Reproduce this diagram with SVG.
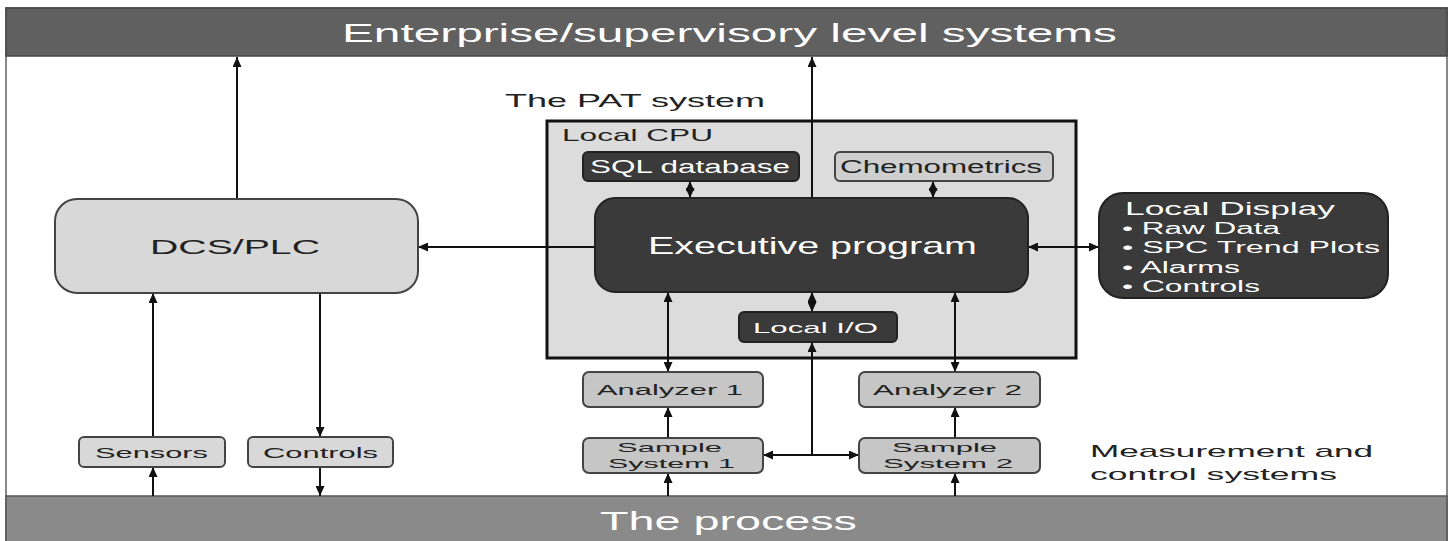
<svg xmlns="http://www.w3.org/2000/svg" width="1452" height="541" viewBox="0 0 1452 541">
<style>
text{font-family:"Liberation Sans",Arial,sans-serif}
.w{fill:#ffffff}
.k{fill:#222222}
.dark{fill:#3a3a3a;stroke:#222;stroke-width:2}
.light{fill:#d8d8d8;stroke:#444;stroke-width:2}
.mid{fill:#c6c6c6;stroke:#444;stroke-width:2}
.c{stroke:#111;stroke-width:2;fill:none}
.a{marker-end:url(#ah)}
.b{marker-start:url(#ah);marker-end:url(#ah)}
</style>
<defs>
<marker id="ah" markerUnits="userSpaceOnUse" markerWidth="10" markerHeight="9" viewBox="0 0 10 9" refX="10" refY="4.5" orient="auto-start-reverse">
<path d="M0,0 L10,4.5 L0,9 z" fill="#111"/>
</marker>
</defs>
<rect x="0" y="0" width="1452" height="541" fill="#ffffff"/>
<rect x="6" y="8" width="1441" height="540" fill="#ffffff" stroke="#888" stroke-width="2"/>

<g id="enterprise">
<rect x="6" y="8" width="1441" height="48" fill="#606060" stroke="#444" stroke-width="1.5"/>
<text class="w" x="342" y="42" font-size="26" textLength="775" lengthAdjust="spacingAndGlyphs">Enterprise/supervisory level systems</text>
</g>

<g id="process">
<rect x="6" y="496" width="1441" height="50" fill="#8a8a8a" stroke="#555" stroke-width="1.5"/>
<text class="w" x="600" y="530" font-size="26" textLength="257" lengthAdjust="spacingAndGlyphs">The process</text>
</g>

<g id="pat-label">
<text class="k" x="505" y="107" font-size="19" textLength="260" lengthAdjust="spacingAndGlyphs">The PAT system</text>
</g>

<g id="local-cpu">
<rect x="547" y="121" width="529" height="237" fill="#dcdcdc" stroke="#111" stroke-width="3"/>
<text class="k" x="562" y="141" font-size="17" textLength="151" lengthAdjust="spacingAndGlyphs">Local CPU</text>
</g>

<g id="connectors">
<path class="c a" d="M237,199 V57"/>
<path class="c a" d="M812,198 V57"/>
<path class="c a" d="M595,247 H418"/>
<path class="c b" d="M690,181 V198"/>
<path class="c b" d="M933,181 V198"/>
<path class="c b" d="M812,292 V312"/>
<path class="c b" d="M1028,247 H1099"/>
<path class="c b" d="M668,292 V372"/>
<path class="c b" d="M955,292 V372"/>
<path class="c a" d="M668,438 V407"/>
<path class="c a" d="M955,438 V407"/>
<path class="c a" d="M668,496 V473"/>
<path class="c a" d="M955,496 V473"/>
<path class="c a" d="M812,455 V342"/>
<path class="c a" d="M812,455 H763"/>
<path class="c a" d="M812,455 H859"/>
<path class="c a" d="M153,437 V293"/>
<path class="c a" d="M320,293 V437"/>
<path class="c a" d="M153,496 V467"/>
<path class="c a" d="M320,467 V496"/>
</g>

<g id="sql">
<rect class="dark" x="583" y="152" width="216" height="29" rx="5"/>
<text class="w" x="590" y="173" font-size="18" textLength="200" lengthAdjust="spacingAndGlyphs">SQL database</text>
</g>

<g id="chemometrics">
<rect x="835" y="152" width="218" height="29" rx="5" fill="#cfcfcf" stroke="#444" stroke-width="2"/>
<text class="k" x="840" y="173" font-size="18" textLength="202" lengthAdjust="spacingAndGlyphs">Chemometrics</text>
</g>

<g id="executive">
<rect class="dark" x="595" y="198" width="433" height="94" rx="20"/>
<text class="w" x="648" y="254" font-size="24" textLength="329" lengthAdjust="spacingAndGlyphs">Executive program</text>
</g>

<g id="local-io">
<rect class="dark" x="739" y="312" width="158" height="30" rx="5"/>
<text class="w" x="753" y="333" font-size="15" textLength="125" lengthAdjust="spacingAndGlyphs">Local I/O</text>
</g>

<g id="local-display">
<rect class="dark" x="1099" y="193" width="289" height="105" rx="24"/>
<text class="w" x="1125" y="215" font-size="18.5" textLength="210" lengthAdjust="spacingAndGlyphs">Local Display</text>
<text class="w" x="1122" y="234" font-size="16" textLength="158" lengthAdjust="spacingAndGlyphs">• Raw Data</text>
<text class="w" x="1122" y="253" font-size="16" textLength="258" lengthAdjust="spacingAndGlyphs">• SPC Trend Plots</text>
<text class="w" x="1122" y="273" font-size="16" textLength="118" lengthAdjust="spacingAndGlyphs">• Alarms</text>
<text class="w" x="1122" y="292" font-size="16" textLength="138" lengthAdjust="spacingAndGlyphs">• Controls</text>
</g>

<g id="dcs-plc">
<rect class="light" x="55" y="199" width="363" height="94" rx="22"/>
<text class="k" x="150" y="254" font-size="20" textLength="170" lengthAdjust="spacingAndGlyphs">DCS/PLC</text>
</g>

<g id="sensors">
<rect class="light" x="79" y="437" width="146" height="30" rx="5"/>
<text class="k" x="95" y="458" font-size="15.5" textLength="113" lengthAdjust="spacingAndGlyphs">Sensors</text>
</g>

<g id="controls">
<rect class="light" x="248" y="437" width="145" height="30" rx="5"/>
<text class="k" x="263" y="458" font-size="15.5" textLength="115" lengthAdjust="spacingAndGlyphs">Controls</text>
</g>

<g id="analyzer1">
<rect class="mid" x="583" y="372" width="180" height="35" rx="6"/>
<text class="k" x="597" y="395" font-size="15.5" textLength="146" lengthAdjust="spacingAndGlyphs">Analyzer 1</text>
</g>

<g id="analyzer2">
<rect class="mid" x="859" y="372" width="181" height="35" rx="6"/>
<text class="k" x="873" y="395" font-size="15.5" textLength="149" lengthAdjust="spacingAndGlyphs">Analyzer 2</text>
</g>

<g id="sample1">
<rect class="mid" x="583" y="438" width="180" height="35" rx="6"/>
<text class="k" x="617" y="452" font-size="13" textLength="105" lengthAdjust="spacingAndGlyphs">Sample</text>
<text class="k" x="608" y="468" font-size="13" textLength="127" lengthAdjust="spacingAndGlyphs">System 1</text>
</g>

<g id="sample2">
<rect class="mid" x="859" y="438" width="181" height="35" rx="6"/>
<text class="k" x="892" y="452" font-size="13" textLength="105" lengthAdjust="spacingAndGlyphs">Sample</text>
<text class="k" x="883" y="468" font-size="13" textLength="130" lengthAdjust="spacingAndGlyphs">System 2</text>
</g>

<g id="measurement-label">
<text class="k" x="1090" y="457" font-size="17" textLength="283" lengthAdjust="spacingAndGlyphs">Measurement and</text>
<text class="k" x="1090" y="480" font-size="17" textLength="247" lengthAdjust="spacingAndGlyphs">control systems</text>
</g>
</svg>
